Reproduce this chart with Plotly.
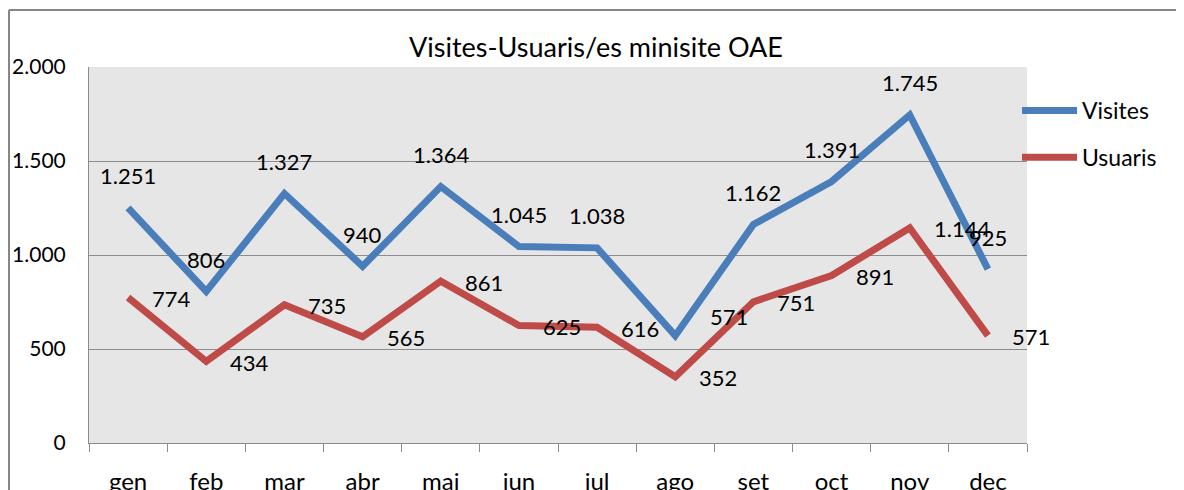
import plotly.graph_objects as go

months = ["gen", "feb", "mar", "abr", "mai", "jun", "jul", "ago", "set", "oct", "nov", "dec"]
visites = [1251, 806, 1327, 940, 1364, 1045, 1038, 571, 1162, 1391, 1745, 925]
usuaris = [774, 434, 735, 565, 861, 625, 616, 352, 751, 891, 1144, 571]
y_ticks = [0, 500, 1000, 1500, 2000]
y_ticktext = ["0", "500", "1.000", "1.500", "2.000"]

BLUE = "#4A7EBB"
RED = "#BE4B48"
FONT = "Lato"
OFF = 8  # page body margin
W, H = 1184 - OFF, 490 - OFF
# plot area in figure pixels
L, R, T, B = 89 - OFF, 1027 - OFF, 67 - OFF, 443 - OFF


def fmt(v):
    return f"{v:,}".replace(",", ".")


fig = go.Figure()
fig.add_trace(go.Scatter(x=months, y=visites, mode="lines", name="Visites",
                         line=dict(color=BLUE, width=7), legendgroup="a"))
fig.add_trace(go.Scatter(x=months, y=usuaris, mode="lines", name="Usuaris",
                         line=dict(color=RED, width=7), legendgroup="b"))

ann = []
for m, v in zip(months, visites):
    xs, ys = 0, 32
    if m == "ago":
        xs, ys = 54, 19
    ann.append(dict(x=m, y=v, text=fmt(v), showarrow=False, xanchor="center",
                    yanchor="middle", xshift=xs, yshift=ys,
                    font=dict(family=FONT, size=22, color="#000000")))
for m, v in zip(months, usuaris):
    ann.append(dict(x=m, y=v, text=fmt(v), showarrow=False, xanchor="left",
                    yanchor="middle", xshift=22, yshift=-1,
                    font=dict(family=FONT, size=22, color="#000000")))

pw, ph = R - L, B - T


def px_x(p):
    return (p - OFF - L) / pw


def px_y(p):
    return (B - (p - OFF)) / ph


shapes = [
    dict(type="line", xref="paper", yref="paper", x0=px_x(9), x1=px_x(9),
         y0=px_y(10), y1=px_y(500), line=dict(color="#868686", width=2)),
    dict(type="line", xref="paper", yref="paper", x0=px_x(9), x1=px_x(1200),
         y0=px_y(10), y1=px_y(10), line=dict(color="#868686", width=2)),
]

fig.update_layout(
    width=W, height=H,
    margin=dict(l=L, r=W - R, t=T, b=H - B, pad=0, autoexpand=False),
    paper_bgcolor="white",
    plot_bgcolor="#E6E6E6",
    font=dict(family=FONT, size=21, color="#000000"),
    title=dict(text="Visites-Usuaris/es minisite OAE", x=(596 - OFF) / W, xanchor="center",
               y=1 - (48 - OFF) / H, yanchor="middle", xref="container", yref="container",
               font=dict(family=FONT, size=27, color="#000000")),
    showlegend=True,
    legend=dict(x=px_x(1017), y=px_y(89), xanchor="left", yanchor="top",
                bgcolor="rgba(0,0,0,0)", font=dict(family=FONT, size=23),
                traceorder="grouped", tracegroupgap=14, itemwidth=55),
    annotations=ann,
    shapes=shapes,
)
fig.update_xaxes(type="category", range=[-0.5, 11.5], showgrid=False,
                 showline=True, linecolor="#8C8C8C", linewidth=1,
                 ticks="outside", ticklen=8, tickcolor="#8C8C8C", tickson="boundaries",
                 ticklabelstandoff=17, tickfont=dict(family=FONT, size=24),
                 mirror=False, zeroline=False, automargin=False)
fig.update_yaxes(range=[0, 2000], tickvals=y_ticks, ticktext=y_ticktext,
                 showgrid=True, gridcolor="#8C8C8C", gridwidth=1,
                 showline=True, linecolor="#8C8C8C", linewidth=1,
                 ticks="", ticklabelstandoff=18, zeroline=False, automargin=False,
                 tickfont=dict(family=FONT, size=21))

fig.write_html("out.html")
